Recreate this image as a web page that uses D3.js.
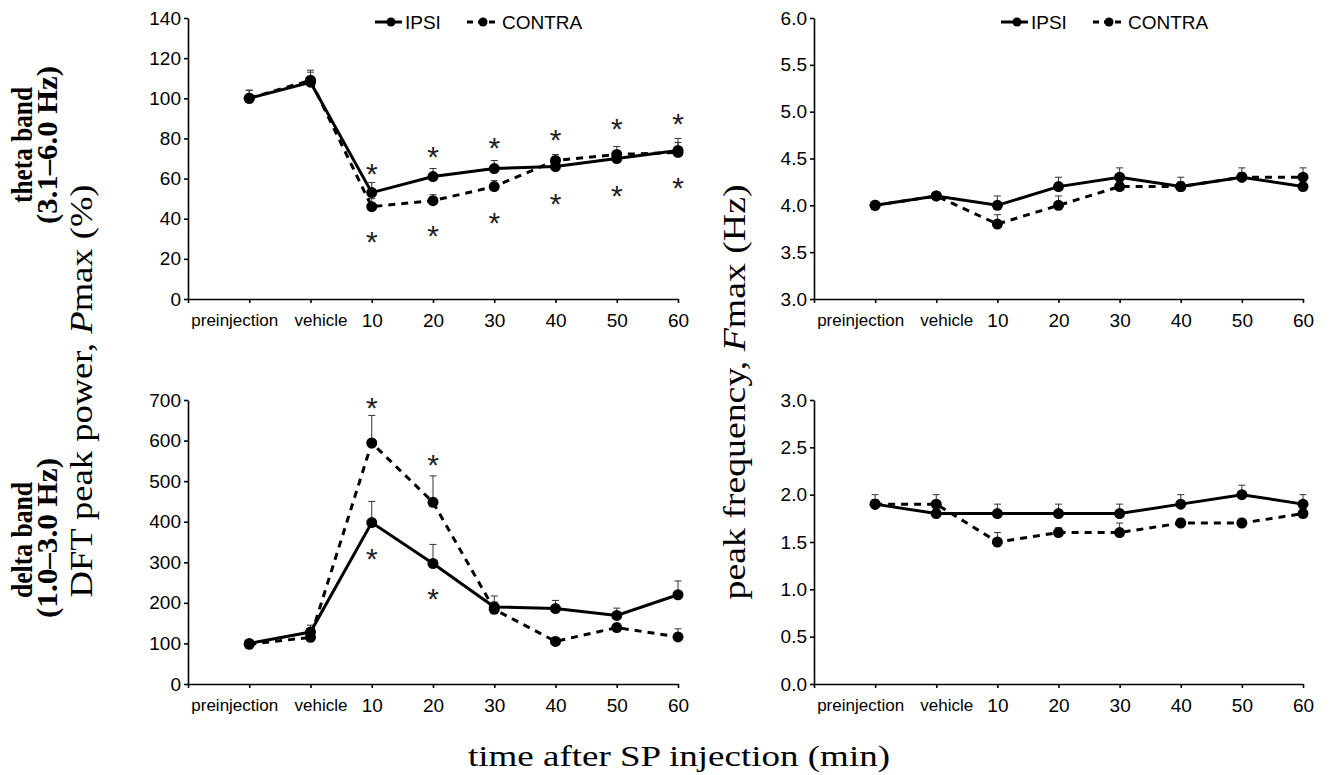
<!DOCTYPE html>
<html>
<head>
<meta charset="utf-8">
<script src="https://cdn.jsdelivr.net/npm/d3@7"></script>
<style>
  body { margin: 0; background: #fff; }
  svg { display: block; }
  .tick text { font-family: "Liberation Sans", Arial, sans-serif; fill: #000; }
  .serif { font-family: "Liberation Serif", "Times New Roman", serif; fill: #000; }
</style>
</head>
<body>
<div id="chart"></div>
<script>
// categories along the time axis
var cats = ["preinjection", "vehicle", "10", "20", "30", "40", "50", "60"];

// theta band peak power (%)
var thetaPowIpsi      = [100, 108, 53, 61, 65, 66, 70, 74];
var thetaPowIpsiErr   = [4, 6, 5, 4, 4, 4, 4, 6];
var thetaPowContra    = [100, 109, 46, 49, 56, 69, 72, 73];
var thetaPowContraErr = [4, 4, 4, 3, 3, 3, 4, 5];

// delta band peak power (%)
var deltaPowIpsi      = [100, 128, 398, 297, 190, 186, 169, 220];
var deltaPowIpsiErr   = [3, 17, 52, 47, 27, 20, 18, 34];
var deltaPowContra    = [98, 115, 594, 448, 184, 105, 139, 116];
var deltaPowContraErr = [3, 5, 68, 65, 18, 10, 10, 20];

// theta band peak frequency (Hz)
var thetaFrqIpsi      = [4.0, 4.1, 4.0, 4.2, 4.3, 4.2, 4.3, 4.2];
var thetaFrqIpsiErr   = [0, 0, 0.1, 0.1, 0.1, 0.1, 0.1, 0.1];
var thetaFrqContra    = [4.0, 4.1, 3.8, 4.0, 4.2, 4.2, 4.3, 4.3];
var thetaFrqContraErr = [0, 0, 0.1, 0.1, 0.05, 0.05, 0.05, 0.1];

// delta band peak frequency (Hz)
var deltaFrqIpsi      = [1.9, 1.8, 1.8, 1.8, 1.8, 1.9, 2.0, 1.9];
var deltaFrqIpsiErr   = [0.1, 0.05, 0.1, 0.1, 0.1, 0.1, 0.1, 0.1];
var deltaFrqContra    = [1.9, 1.9, 1.5, 1.6, 1.6, 1.7, 1.7, 1.8];
var deltaFrqContraErr = [0.05, 0.1, 0.1, 0.05, 0.1, 0.05, 0.05, 0.05];

// significance asterisks (category, value level)
var thetaPowStars = [["10", 66], ["20", 74], ["30", 78.5], ["40", 82.5], ["50", 88], ["60", 90.5],
                     ["10", 32], ["20", 35], ["30", 41.5], ["40", 51], ["50", 55], ["60", 59]];
var deltaPowStars = [["10", 697], ["20", 557], ["10", 326], ["20", 227]];

// tick values
var thetaPowTicks = d3.range(0, 141, 20);
var deltaPowTicks = d3.range(0, 701, 100);
var thetaFrqTicks = [3.0, 3.5, 4.0, 4.5, 5.0, 5.5, 6.0];
var deltaFrqTicks = [0.0, 0.5, 1.0, 1.5, 2.0, 2.5, 3.0];

var width = 1331, height = 775;
var svg = d3.select("#chart").append("svg")
  .attr("width", width)
  .attr("height", height);

var panels = [
  { x0: 188, x1: 678, top: 18, bot: 299, dom: [0, 140], ticks: thetaPowTicks, fmt: d3.format("d"),
    ipsi: thetaPowIpsi, ipsiErr: thetaPowIpsiErr, contra: thetaPowContra, contraErr: thetaPowContraErr,
    stars: thetaPowStars, legend: true },
  { x0: 814, x1: 1303, top: 18, bot: 299, dom: [3, 6], ticks: thetaFrqTicks, fmt: d3.format(".1f"),
    ipsi: thetaFrqIpsi, ipsiErr: thetaFrqIpsiErr, contra: thetaFrqContra, contraErr: thetaFrqContraErr,
    stars: [], legend: true },
  { x0: 188, x1: 678, top: 400, bot: 684, dom: [0, 700], ticks: deltaPowTicks, fmt: d3.format("d"),
    ipsi: deltaPowIpsi, ipsiErr: deltaPowIpsiErr, contra: deltaPowContra, contraErr: deltaPowContraErr,
    stars: deltaPowStars, legend: false },
  { x0: 814, x1: 1303, top: 400, bot: 684, dom: [0, 3], ticks: deltaFrqTicks, fmt: d3.format(".1f"),
    ipsi: deltaFrqIpsi, ipsiErr: deltaFrqIpsiErr, contra: deltaFrqContra, contraErr: deltaFrqContraErr,
    stars: [], legend: false }
];

panels.forEach(drawPanel);

function drawPanel(p) {
  var g = svg.append("g");
  var x = d3.scalePoint().domain([""].concat(cats)).range([p.x0, p.x1]);
  var y = d3.scaleLinear().domain(p.dom).range([p.bot, p.top]);

  // axes
  var xAxis = g.append("g")
    .attr("transform", "translate(0," + p.bot + ")")
    .call(d3.axisBottom(x).tickSize(4).tickSizeOuter(0).tickPadding(11));
  xAxis.selectAll(".tick text")
    .style("font-size", function(d) { return isNaN(+d) ? "17px" : "19px"; })
    .attr("dx", function(d) { return d == "preinjection" ? -15 : d == "vehicle" ? 10 : 0; });

  var yAxis = g.append("g")
    .attr("transform", "translate(" + p.x0 + ",0)")
    .call(d3.axisLeft(y).tickValues(p.ticks).tickFormat(p.fmt).tickSize(4).tickSizeOuter(0));
  yAxis.selectAll(".tick text").style("font-size", "19px");

  g.selectAll(".domain, .tick line").attr("stroke", "#000").attr("stroke-width", 1.6);

  var series = [
    { v: p.contra, e: p.contraErr, dash: "7,6" },
    { v: p.ipsi, e: p.ipsiErr, dash: null }
  ];

  // error bars (upper only)
  series.forEach(function(s) {
    var eb = g.append("g").attr("stroke", "#333").attr("stroke-width", 1);
    s.v.forEach(function(v, i) {
      if (!s.e[i]) return;
      var cx = x(cats[i]);
      eb.append("line").attr("x1", cx).attr("x2", cx).attr("y1", y(v)).attr("y2", y(v + s.e[i]));
      eb.append("line").attr("x1", cx - 3.5).attr("x2", cx + 3.5).attr("y1", y(v + s.e[i])).attr("y2", y(v + s.e[i]));
    });
  });

  var line = d3.line()
    .x(function(d, i) { return x(cats[i]); })
    .y(function(d) { return y(d); });

  series.forEach(function(s) {
    g.append("path")
      .datum(s.v)
      .attr("fill", "none")
      .attr("stroke", "#000")
      .attr("stroke-width", 3)
      .attr("stroke-dasharray", s.dash)
      .attr("d", line);
  });

  series.forEach(function(s) {
    g.selectAll(null)
      .data(s.v)
      .enter().append("circle")
      .attr("cx", function(d, i) { return x(cats[i]); })
      .attr("cy", function(d) { return y(d); })
      .attr("r", 5.5)
      .attr("fill", "#000");
  });

  // asterisks
  g.selectAll(null)
    .data(p.stars)
    .enter().append("text")
    .attr("x", function(d) { return x(d[0]); })
    .attr("y", function(d) { return y(d[1]) + 17; })
    .attr("text-anchor", "middle")
    .style("font-family", "'Liberation Sans', Arial, sans-serif")
    .style("font-size", "30px")
    .attr("fill", "#222")
    .text("*");

  if (p.legend) {
    var lg = g.append("g").attr("transform", "translate(" + (p.x0 + 187) + ",22)");
    lg.append("line").attr("x1", 0).attr("x2", 27).attr("stroke", "#000").attr("stroke-width", 3);
    lg.append("circle").attr("cx", 16).attr("r", 4.5);
    lg.append("text").attr("x", 30).attr("y", 7)
      .style("font-family", "'Liberation Sans', Arial, sans-serif").style("font-size", "19px").text("IPSI");
    lg.append("line").attr("x1", 92).attr("x2", 124).attr("stroke", "#000").attr("stroke-width", 3)
      .attr("stroke-dasharray", "6,5");
    lg.append("circle").attr("cx", 108).attr("r", 4.5);
    lg.append("text").attr("x", 127).attr("y", 7)
      .style("font-family", "'Liberation Sans', Arial, sans-serif").style("font-size", "19px").text("CONTRA");
  }
}

// rotated labels
function vlabel(tx, ty, size, bold, len, thick) {
  var t = svg.append("text").attr("class", "serif")
    .attr("transform", "translate(" + tx + "," + ty + ") rotate(-90) scale(1," + (thick || 1) + ")")
    .attr("text-anchor", "middle")
    .attr("font-size", size)
    .attr("font-weight", bold ? "bold" : "normal");
  if (len) t.attr("textLength", len).attr("lengthAdjust", "spacingAndGlyphs");
  return t;
}

vlabel(32, 145, 26, true, 116, 1.1).text("theta band");
vlabel(57, 145, 26, true, 158, 1.1).text("(3.1\u20136.0 Hz)");
vlabel(32, 540, 26, true, 116, 1.1).text("delta band");
vlabel(57, 538, 26, true, 160, 1.1).text("(1.0\u20133.0 Hz)");

var pl = vlabel(92, 391, 32, false, 413);
pl.append("tspan").text("DFT peak power,  ");
pl.append("tspan").style("font-style", "italic").text("P");
pl.append("tspan").text("max (%)");

var fl = vlabel(745, 392, 31, false, 415);
fl.append("tspan").text("peak frequency,  ");
fl.append("tspan").style("font-style", "italic").text("F");
fl.append("tspan").text("max (Hz)");

svg.append("text").attr("class", "serif")
  .attr("x", 679).attr("y", 766)
  .attr("text-anchor", "middle")
  .attr("textLength", 422).attr("lengthAdjust", "spacingAndGlyphs")
  .attr("font-size", 30)
  .text("time after SP injection (min)");
</script>
</body>
</html>
